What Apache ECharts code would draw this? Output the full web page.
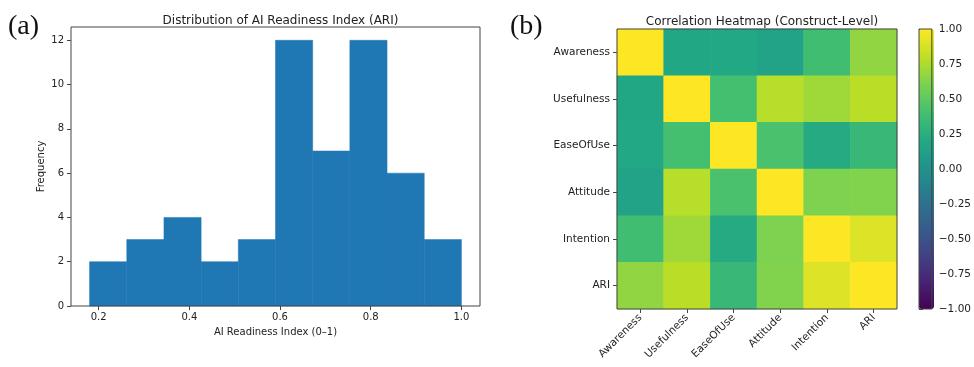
<!DOCTYPE html>
<html>
<head>
<meta charset="utf-8">
<script src="https://cdn.jsdelivr.net/npm/echarts@6/dist/echarts.min.js"></script>
<style>html,body{margin:0;padding:0;background:#fff}#c{width:974px;height:367px}</style>
</head>
<body>
<div id="c"></div>
<script>
// ---- Data ----
var binEdges = [0.18, 0.262, 0.344, 0.426, 0.508, 0.59, 0.672, 0.754, 0.836, 0.918, 1.0];
var binCounts = [2, 3, 4, 2, 3, 12, 7, 12, 6, 3];
var histXTicks = [0.2, 0.4, 0.6, 0.8, 1.0];
var histYTicks = [0, 2, 4, 6, 8, 10, 12];
var constructs = ['Awareness', 'Usefulness', 'EaseOfUse', 'Attitude', 'Intention', 'ARI'];
var corrAwareness  = [1.00, 0.19, 0.20, 0.15, 0.38, 0.67];
var corrUsefulness = [0.19, 1.00, 0.40, 0.78, 0.71, 0.79];
var corrEaseOfUse  = [0.20, 0.40, 1.00, 0.42, 0.22, 0.33];
var corrAttitude   = [0.15, 0.78, 0.42, 1.00, 0.61, 0.62];
var corrIntention  = [0.38, 0.71, 0.22, 0.61, 1.00, 0.90];
var corrARI        = [0.67, 0.79, 0.33, 0.62, 0.90, 1.00];
var colorbarTicks = [-1, -0.75, -0.5, -0.25, 0, 0.25, 0.5, 0.75, 1];

var corrRows = [corrAwareness, corrUsefulness, corrEaseOfUse, corrAttitude, corrIntention, corrARI];
var heatData = [];
corrRows.forEach(function (row, yi) {
  row.forEach(function (v, xi) { heatData.push([xi, yi, v]); });
});
var histData = binCounts.map(function (c, i) { return [binEdges[i], binEdges[i + 1], c]; });

var viridis = ['#440154', '#482475', '#414487', '#355f8d', '#2a788e', '#21918c',
               '#22a884', '#44bf70', '#7ad151', '#bddf26', '#fde725'];

var FONT = 'DejaVu Sans';
var txt = '#222';
function minus(s) { return s.replace('-', '\u2212'); }

var chart = echarts.init(document.getElementById('c'), null, { renderer: 'canvas' });
chart.setOption({
  backgroundColor: '#fff',
  animation: false,
  textStyle: { fontFamily: FONT },
  title: [
    { text: 'Distribution of AI Readiness Index (ARI)', left: 275.5, top: 10, textAlign: 'center',
      textStyle: { fontFamily: FONT, fontSize: 12, fontWeight: 'normal', color: txt } },
    { text: 'Correlation Heatmap (Construct-Level)', left: 757, top: 11, textAlign: 'center',
      textStyle: { fontFamily: FONT, fontSize: 12, fontWeight: 'normal', color: txt } }
  ],
  graphic: [
    { type: 'text', left: 8, top: 13, style: { text: '(a)', font: '28px "Liberation Serif", serif', fill: '#111' } },
    { type: 'text', left: 510, top: 13, style: { text: '(b)', font: '28px "Liberation Serif", serif', fill: '#111' } }
  ],
  grid: [
    { left: 71, top: 27, width: 409, height: 279, show: true, borderColor: '#444', borderWidth: 1, z: 5, backgroundColor: 'transparent' },
    { left: 617, top: 29, width: 280, height: 280, show: true, borderColor: '#444', borderWidth: 1, z: 5, backgroundColor: 'transparent' },
    { left: 919, top: 29, width: 15, height: 280, show: true, borderColor: '#444', borderWidth: 1, z: 10, backgroundColor: 'transparent' }
  ],
  xAxis: [
    { type: 'value', gridIndex: 0, min: 0.139, max: 1.041,
      name: 'AI Readiness Index (0\u20131)', nameLocation: 'middle', nameGap: 21,
      nameTextStyle: { fontFamily: FONT, fontSize: 10, color: txt },
      axisLine: { show: false },
      splitLine: { show: false },
      axisTick: { show: true, length: 4, lineStyle: { color: '#444' }, customValues: histXTicks },
      axisLabel: { fontFamily: FONT, fontSize: 10, color: txt, margin: 6, customValues: histXTicks,
        formatter: function (v) { return v.toFixed(1); } } },
    { type: 'category', gridIndex: 1, data: constructs,
      axisLine: { show: false },
      axisTick: { show: true, alignWithLabel: true, length: 4, lineStyle: { color: '#444' } },
      axisLabel: { fontFamily: FONT, fontSize: 10.5, color: txt, rotate: 45, margin: 7, interval: 0 },
      splitLine: { show: false } },
    { type: 'value', gridIndex: 2, min: 0, max: 1, show: false }
  ],
  yAxis: [
    { type: 'value', gridIndex: 0, min: 0, max: 12.6,
      name: 'Frequency', nameLocation: 'middle', nameGap: 25,
      nameTextStyle: { fontFamily: FONT, fontSize: 10, color: txt },
      axisLine: { show: false },
      splitLine: { show: false },
      axisTick: { show: true, length: 4, lineStyle: { color: '#444' }, customValues: histYTicks },
      axisLabel: { fontFamily: FONT, fontSize: 10, color: txt, margin: 7, customValues: histYTicks } },
    { type: 'category', gridIndex: 1, data: constructs, inverse: true,
      axisLine: { show: false },
      axisTick: { show: true, alignWithLabel: true, length: 4, lineStyle: { color: '#444' } },
      axisLabel: { fontFamily: FONT, fontSize: 10.5, color: txt, margin: 7, interval: 0 },
      splitLine: { show: false } },
    { type: 'value', gridIndex: 2, min: -1, max: 1, interval: 0.25, position: 'right',
      axisLine: { show: false },
      splitLine: { show: false },
      axisTick: { show: true, length: 4, lineStyle: { color: '#444' } },
      axisLabel: { fontFamily: FONT, fontSize: 10.5, color: txt, margin: 7,
        formatter: function (v) { return minus(v.toFixed(2)); } } }
  ],
  visualMap: {
    type: 'continuous', min: -1, max: 1, seriesIndex: 1,
    left: 919, top: 29, itemWidth: 15, itemHeight: 280, padding: 0,
    calculable: false, show: true, text: null, hoverLink: false,
    inRange: { color: viridis }
  },
  series: [
    { type: 'custom', xAxisIndex: 0, yAxisIndex: 0, data: histData,
      encode: { x: [0, 1], y: 2 },
      renderItem: function (params, api) {
        var p0 = api.coord([api.value(0), 0]);
        var p1 = api.coord([api.value(1), api.value(2)]);
        return { type: 'rect',
          shape: { x: p0[0], y: p1[1], width: p1[0] - p0[0], height: p0[1] - p1[1] },
          style: { fill: '#1f77b4', stroke: '#1f77b4', lineWidth: 0.5 } };
      } },
    { type: 'heatmap', xAxisIndex: 1, yAxisIndex: 1, data: heatData,
      itemStyle: { borderWidth: 0 }, emphasis: { disabled: true } }
  ]
});
</script>
</body>
</html>
